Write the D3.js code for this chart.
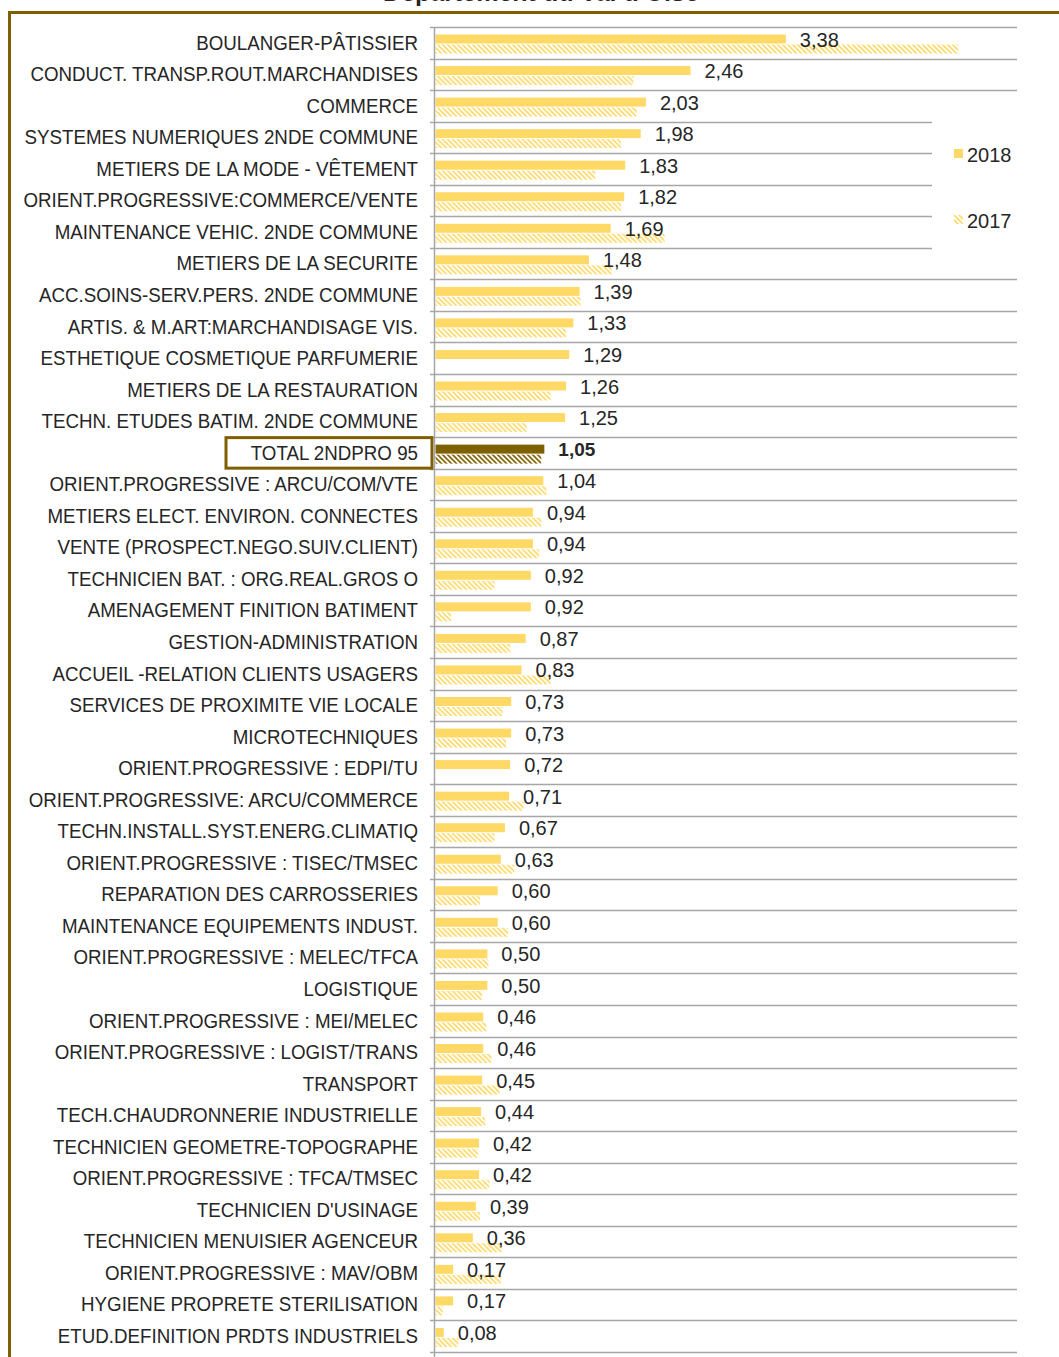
<!DOCTYPE html>
<html>
<head>
<meta charset="utf-8">
<script src="https://cdn.jsdelivr.net/npm/d3@7"></script>
<style>
  body { margin: 0; background: #fff; }
  svg { display: block; }
  text { font-family: "Liberation Sans Narrow", "Arial Narrow", "Liberation Sans", sans-serif; fill: #262626; }
</style>
</head>
<body>
<svg width="1059" height="1357"></svg>
<script>
var categories = [
  "BOULANGER-PÂTISSIER", "CONDUCT. TRANSP.ROUT.MARCHANDISES", "COMMERCE",
  "SYSTEMES NUMERIQUES 2NDE COMMUNE", "METIERS DE LA MODE - VÊTEMENT",
  "ORIENT.PROGRESSIVE:COMMERCE/VENTE", "MAINTENANCE VEHIC. 2NDE COMMUNE",
  "METIERS DE LA SECURITE", "ACC.SOINS-SERV.PERS. 2NDE COMMUNE",
  "ARTIS. & M.ART:MARCHANDISAGE VIS.", "ESTHETIQUE COSMETIQUE PARFUMERIE",
  "METIERS DE LA RESTAURATION", "TECHN. ETUDES BATIM. 2NDE COMMUNE",
  "TOTAL 2NDPRO 95", "ORIENT.PROGRESSIVE : ARCU/COM/VTE",
  "METIERS ELECT. ENVIRON. CONNECTES", "VENTE (PROSPECT.NEGO.SUIV.CLIENT)",
  "TECHNICIEN BAT. : ORG.REAL.GROS O", "AMENAGEMENT FINITION BATIMENT",
  "GESTION-ADMINISTRATION", "ACCUEIL -RELATION CLIENTS USAGERS",
  "SERVICES DE PROXIMITE VIE LOCALE", "MICROTECHNIQUES",
  "ORIENT.PROGRESSIVE : EDPI/TU", "ORIENT.PROGRESSIVE: ARCU/COMMERCE",
  "TECHN.INSTALL.SYST.ENERG.CLIMATIQ", "ORIENT.PROGRESSIVE : TISEC/TMSEC",
  "REPARATION DES CARROSSERIES", "MAINTENANCE EQUIPEMENTS INDUST.",
  "ORIENT.PROGRESSIVE : MELEC/TFCA", "LOGISTIQUE",
  "ORIENT.PROGRESSIVE : MEI/MELEC", "ORIENT.PROGRESSIVE : LOGIST/TRANS",
  "TRANSPORT", "TECH.CHAUDRONNERIE INDUSTRIELLE",
  "TECHNICIEN GEOMETRE-TOPOGRAPHE", "ORIENT.PROGRESSIVE : TFCA/TMSEC",
  "TECHNICIEN D'USINAGE", "TECHNICIEN MENUISIER AGENCEUR",
  "ORIENT.PROGRESSIVE : MAV/OBM", "HYGIENE PROPRETE STERILISATION",
  "ETUD.DEFINITION PRDTS INDUSTRIELS"
];

var values2018 = [3.38, 2.46, 2.03, 1.98, 1.83, 1.82, 1.69, 1.48, 1.39, 1.33, 1.29, 1.26, 1.25,
  1.05, 1.04, 0.94, 0.94, 0.92, 0.92, 0.87, 0.83, 0.73, 0.73, 0.72, 0.71, 0.67, 0.63,
  0.60, 0.60, 0.50, 0.50, 0.46, 0.46, 0.45, 0.44, 0.42, 0.42, 0.39, 0.36, 0.17, 0.17, 0.08];

// 2017 (no bar = null)
var values2017 = [5.04, 1.91, 1.94, 1.79, 1.54, 1.79, 2.21, 1.70, 1.40, 1.26, null, 1.11, 0.88,
  1.02, 1.07, 1.02, 1.00, 0.57, 0.15, 0.72, 1.11, 0.65, 0.68, null, 0.85, 0.57, 0.76,
  0.43, 0.70, 0.51, 0.45, 0.49, 0.54, 0.62, 0.48, 0.41, 0.52, 0.43, 0.64, 0.63, 0.07, 0.22];

var series = ["2018", "2017"];
var totalLabel = "TOTAL 2NDPRO 95";

var svg = d3.select("svg");
var yellow = "#FFD966", dark = "#7F6000";
var squeeze = 0.915; // no narrow font installed, so condense the labels

// hatch patterns
var defs = svg.append("defs");
[["hatch", yellow], ["hatchDark", dark]].forEach(function(p) {
  var pat = defs.append("pattern")
    .attr("id", p[0])
    .attr("patternUnits", "userSpaceOnUse")
    .attr("width", 5).attr("height", 5);
  pat.append("path")
    .attr("d", "M-1,-1 L6,6 M-1,4 L1,6 M4,-1 L6,1")
    .attr("stroke", p[1]).attr("stroke-width", 1.6);
});

var x = d3.scaleLinear().domain([0, 5.6]).range([435.5, 1016]);
var y = d3.scaleBand().domain(categories).range([27, 1352]);
var y1 = d3.scaleBand().domain(series).range([7.5, 26.5]).paddingInner(0.1);

var data = categories.map(function(c, i) {
  return { cat: c, v2018: values2018[i], v2017: values2017[i], total: c === totalLabel };
});

// frame
svg.append("rect")
  .attr("x", 9.5).attr("y", 12.5).attr("width", 1200).attr("height", 1500)
  .attr("fill", "none").attr("stroke", dark).attr("stroke-width", 3);

// title (partly cut at the top, as in the source)
svg.append("text")
  .attr("x", 541).attr("y", 1)
  .attr("text-anchor", "middle")
  .style("font-family", "'Liberation Sans', Arial, sans-serif")
  .style("font-weight", "bold").style("font-size", "25px")
  .text("Département du Val d'Oise");

// gridlines between rows, shortened where the legend sits
var legendBox = { x: 932, top: 110, bottom: 260 };
var bounds = categories.map(function(c) { return y(c); }).concat([y.range()[1]]);
svg.append("g").selectAll("line")
  .data(bounds)
  .enter().append("line")
  .attr("x1", 430)
  .attr("x2", function(d) { return (d > legendBox.top && d < legendBox.bottom) ? legendBox.x : 1017; })
  .attr("y1", function(d) { return Math.round(d) + 0.5; })
  .attr("y2", function(d) { return Math.round(d) + 0.5; })
  .attr("stroke", "#a6a6a6").attr("stroke-width", 1.5);

// bars
var rows = svg.append("g").selectAll("g")
  .data(data)
  .enter().append("g")
  .attr("transform", function(d) { return "translate(0," + y(d.cat) + ")"; });

rows.append("rect")
  .attr("x", x(0))
  .attr("y", y1("2018"))
  .attr("width", function(d) { return x(d.v2018) - x(0); })
  .attr("height", y1.bandwidth())
  .attr("fill", function(d) { return d.total ? dark : yellow; });

rows.filter(function(d) { return d.v2017 != null; }).append("rect")
  .attr("x", x(0))
  .attr("y", y1("2017"))
  .attr("width", function(d) { return x(d.v2017) - x(0); })
  .attr("height", y1.bandwidth())
  .attr("fill", function(d) { return d.total ? "url(#hatchDark)" : "url(#hatch)"; });

// value labels
rows.append("text")
  .attr("x", function(d) { return x(d.v2018) + 14; })
  .attr("y", y1("2018") + y1.bandwidth() / 2 + 0.5)
  .attr("dominant-baseline", "central")
  .style("font-weight", function(d) { return d.total ? "bold" : null; })
  .style("font-family", function(d) { return d.total ? "'Liberation Sans', Arial, sans-serif" : null; })
  .style("font-size", function(d) { return d.total ? "19px" : "20px"; })
  .text(function(d) { return d3.format(".2f")(d.v2018).replace(".", ","); });

// category labels
rows.append("text")
  .attr("transform", "translate(418," + (y.bandwidth() / 2 - 0.5) + ") scale(" + squeeze + ",1)")
  .attr("text-anchor", "end")
  .attr("dominant-baseline", "central")
  .style("font-size", "20.5px")
  .text(function(d) { return d.cat; });

// box around the total label
rows.filter(function(d) { return d.total; }).append("rect")
  .attr("x", 226).attr("y", 0.5)
  .attr("width", 206).attr("height", y.bandwidth() - 1)
  .attr("fill", "none").attr("stroke", dark).attr("stroke-width", 3);

// vertical axis line
svg.append("line")
  .attr("x1", 434.5).attr("x2", 434.5)
  .attr("y1", 27).attr("y2", 1357)
  .attr("stroke", "#a6a6a6").attr("stroke-width", 1.5);

// legend
var legend = svg.append("g").attr("transform", "translate(954,0)");
var legendItems = [
  { name: "2018", y: 154, fill: yellow },
  { name: "2017", y: 220, fill: "url(#hatch)" }
];
legend.selectAll("rect")
  .data(legendItems)
  .enter().append("rect")
  .attr("x", 0).attr("y", function(d) { return d.y - 5; })
  .attr("width", 9).attr("height", 9)
  .attr("fill", function(d) { return d.fill; });
legend.selectAll("text")
  .data(legendItems)
  .enter().append("text")
  .attr("x", 13).attr("y", function(d) { return d.y + 0.5; })
  .attr("dominant-baseline", "central")
  .style("font-size", "20px")
  .text(function(d) { return d.name; });
</script>
</body>
</html>
